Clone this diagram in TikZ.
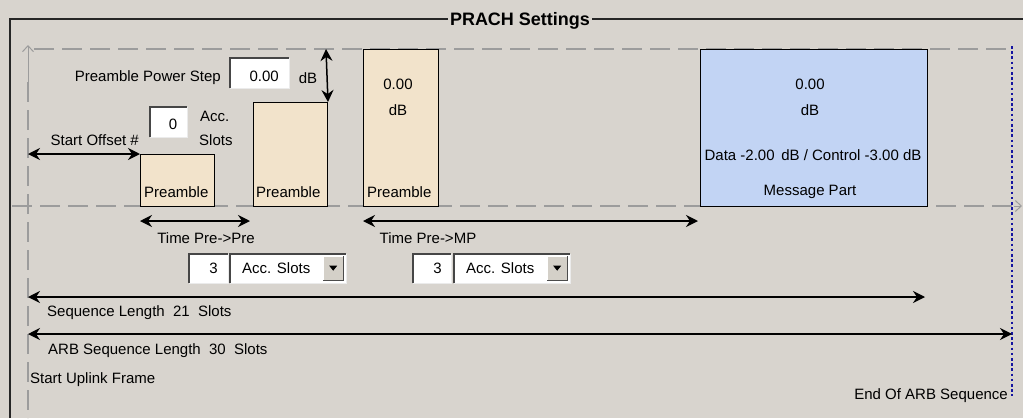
\documentclass[tikz,border=0pt]{standalone}
\usepackage{fontspec}
\setmainfont{Liberation Sans}
\usetikzlibrary{arrows.meta}
\definecolor{bg}{HTML}{D8D4CE}
\definecolor{pre}{HTML}{F2E3CB}
\definecolor{mpc}{HTML}{C2D4F4}
\definecolor{dash}{HTML}{9C9C9C}
\definecolor{dotb}{HTML}{1414A0}
\definecolor{btn}{HTML}{D4D0C8}
\tikzset{
  x=1pt, y=-1pt,
  txt/.style={inner sep=0pt, font=\fontsize{15}{18}\selectfont},
  title/.style={inner sep=2pt, fill=bg, font=\fontsize{18}{20}\selectfont\bfseries},
  slot/.style={draw=black, line width=1pt, inner sep=0pt, anchor=north west},
  field/.style={fill=white, inner sep=0pt, anchor=north west},
  button/.style={fill=btn, inner sep=0pt, anchor=north west},
  guide/.style={draw=dash, line width=1.2pt, dash pattern=on 20pt off 8pt},
  dimarrow/.style={draw=black, line width=1.5pt, {Stealth[length=12pt,width=12pt,inset=4pt]}-{Stealth[length=12pt,width=12pt,inset=4pt]}},
  openhead/.style={draw=dash, line width=1pt, -{Straight Barb[length=6pt,width=11pt]}},
}
\newcommand{\sunkenedge}[1]{%
  \draw[gray!55!black, line width=1.4pt] (#1.south west) -- (#1.north west) -- (#1.north east);
  \draw[white!92!black, line width=1.4pt] (#1.north east) -- (#1.south east) -- (#1.south west);}
\newcommand{\raisededge}[1]{%
  \draw[white, line width=1.2pt] (#1.south west) -- (#1.north west) -- (#1.north east);
  \draw[gray!60!black, line width=1.2pt] (#1.north east) -- (#1.south east) -- (#1.south west);}
\begin{document}
\begin{tikzpicture}
\fill[bg] (0,0) rectangle (1023,418);
\useasboundingbox (0,0) rectangle (1023,418);

% frame and title
\node[title] (ttl) at (520,21) {PRACH Settings};
\coordinate (frTL) at (10,19);
\coordinate (frBL) at (10,418);
\coordinate (frTR) at (1023,19);
\draw[black!85, line width=1.3pt] (frBL) -- (frTL) -- (ttl.west |- frTL);
\draw[black!85, line width=1.3pt] (ttl.east |- frTL) -- (frTR);

% guide lines
\coordinate (gTopL) at (34,49);
\coordinate (gTopR) at (1012,49);
\coordinate (gBotL) at (12,206);
\coordinate (gBotR) at (1014,206);
\coordinate (gArrR) at (1022,206);
\coordinate (gLeftTop) at (28,45);
\coordinate (gLeftA) at (28,82);
\coordinate (gLeftBot) at (28,418);
\draw[guide] (gTopL) -- (gTopR);
\draw[guide] (gBotL) -- (gBotR);
\draw[openhead] (gBotR) -- (gArrR);
\draw[guide, dash phase=0pt] (gLeftA) -- (gLeftBot);
\draw[openhead] (gLeftA) -- (gLeftTop);

% end of ARB sequence dotted line
\coordinate (dotT) at (1012,46);
\coordinate (dotB) at (1012,396);
\draw[dotb, line width=2.6pt, dash pattern=on 2.6pt off 2.6pt] (dotT) -- (dotB);

% slot boxes
\node[slot, fill=pre, minimum width=74pt, minimum height=52pt] (pre1) at (140,154) {};
\node[slot, fill=pre, minimum width=74pt, minimum height=104pt] (pre2) at (253,102) {};
\node[slot, fill=pre, minimum width=75pt, minimum height=157pt] (pre3) at (363,49) {};
\node[slot, fill=mpc, minimum width=227pt, minimum height=157pt] (mp) at (700,49) {};

\node[txt, anchor=west] (pre1t) at (144,192) {Preamble};
\node[txt, anchor=west] (pre2t) at (256,192) {Preamble};
\node[txt, anchor=west] (pre3t) at (367,192) {Preamble};
\node[txt] (pre3v) at (398,84) {0.00};
\node[txt] (pre3u) at (398,110) {dB};
\node[txt] (mpv) at (810,84) {0.00};
\node[txt] (mpu) at (810,110) {dB};
\node[txt] (mpd) at (813,155) {Data -2.00\, dB / Control -3.00 dB};
\node[txt] (mpt) at (810,192) {Message Part};

% preamble power step
\node[txt, anchor=east] (pps) at (221,78) {Preamble Power Step};
\node[field, minimum width=59pt, minimum height=30pt] (ppsf) at (230,58) {};
\sunkenedge{ppsf}
\node[txt, anchor=east] (ppsv) at (279,76) {0.00};
\node[txt] (ppsu) at (308,78) {dB};
\coordinate (ppsTop) at (326,49);
\draw[dimarrow] (ppsTop) -- (pre2.north east);

% start offset
\node[field, minimum width=37pt, minimum height=30pt] (sof) at (150,107) {};
\sunkenedge{sof}
\node[txt] (sov) at (173,124) {0};
\node[txt, anchor=west] (acc1) at (200,116) {Acc.};
\node[txt, anchor=west] (acc2) at (199,140) {Slots};
\node[txt, anchor=east] (sol) at (139,140) {Start Offset \#};
\coordinate (soL) at (28,154);
\draw[dimarrow] (soL) -- (pre1.north west);

% time pre->pre
\coordinate (tppL) at (140,221);
\coordinate (tppR) at (250,221);
\draw[dimarrow] (tppL) -- (tppR);
\node[txt] (tppt) at (206,238) {Time Pre->Pre};
\node[field, minimum width=39pt, minimum height=29pt] (tppn) at (189,254) {};
\sunkenedge{tppn}
\node[txt, anchor=east] (tppv) at (218,268) {3};
\node[field, minimum width=116pt, minimum height=29pt] (tppc) at (230,254) {};
\sunkenedge{tppc}
\node[txt, anchor=west] (tppcv) at (242,268) {Acc. Slots};
\node[button, minimum width=20pt, minimum height=24pt] (tppb) at (323,256) {};
\raisededge{tppb}
\fill[black] ([xshift=-4pt,yshift=2.5pt]tppb.center) -- ([xshift=4pt,yshift=2.5pt]tppb.center) -- ([yshift=-2.5pt]tppb.center) -- cycle;

% time pre->MP
\coordinate (tpmR) at (698,221);
\draw[dimarrow] (pre3.south west |- tppL) -- (tpmR);
\node[txt] (tpmt) at (428,238) {Time Pre->MP};
\node[field, minimum width=38pt, minimum height=29pt] (tpmn) at (413,254) {};
\sunkenedge{tpmn}
\node[txt, anchor=east] (tpmv) at (442,268) {3};
\node[field, minimum width=116pt, minimum height=29pt] (tpmc) at (454,254) {};
\sunkenedge{tpmc}
\node[txt, anchor=west] (tpmcv) at (466,268) {Acc. Slots};
\node[button, minimum width=20pt, minimum height=24pt] (tpmb) at (547,256) {};
\raisededge{tpmb}
\fill[black] ([xshift=-4pt,yshift=2.5pt]tpmb.center) -- ([xshift=4pt,yshift=2.5pt]tpmb.center) -- ([yshift=-2.5pt]tpmb.center) -- cycle;

% sequence lengths
\coordinate (slL) at (28,297);
\coordinate (slR) at (925,297);
\draw[dimarrow] (slL) -- (slR);
\node[txt, anchor=west] (slt) at (47,313) {Sequence Length\ \ 21\ \ Slots};
\coordinate (alL) at (28,334);
\coordinate (alR) at (1012,334);
\draw[dimarrow] (alL) -- (alR);
\node[txt, anchor=west] (alt) at (48,351) {ARB Sequence Length\ \ 30\ \ Slots};

\node[txt, anchor=west] (suf) at (30,380) {Start Uplink Frame};
\node[txt, anchor=east] (eoa) at (1008,396) {End Of ARB Sequence};
\end{tikzpicture}
\end{document}
